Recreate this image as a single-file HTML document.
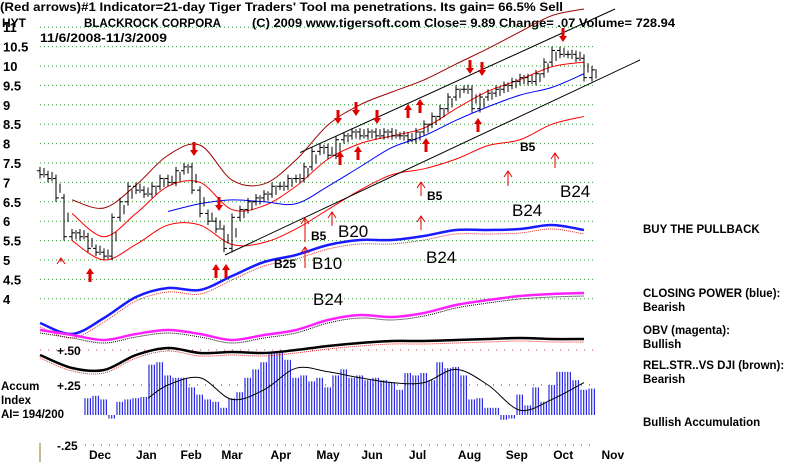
<!DOCTYPE html>
<html><head><meta charset="utf-8"><style>
html,body{margin:0;padding:0;background:#fff;}
svg{display:block;font-family:"Liberation Sans",sans-serif;}
</style></head><body>
<svg id="chart" width="800" height="465" viewBox="0 0 800 465" xmlns="http://www.w3.org/2000/svg">
<g font-weight="bold" font-size="12" fill="#000">
<text x="0" y="11" textLength="563" lengthAdjust="spacingAndGlyphs">(Red arrows)#1 Indicator=21-day Tiger Traders' Tool ma penetrations.  Its gain= 66.5% Sell</text>
<text x="2" y="27">HYT</text>
<text x="84" y="27" textLength="137" lengthAdjust="spacingAndGlyphs">BLACKROCK CORPORA</text>
<text x="252" y="27" textLength="423" lengthAdjust="spacingAndGlyphs">(C) 2009 www.tigersoft.com   Close=  9.89  Change= .07 Volume= 728.94</text>
<text x="40" y="42" textLength="127" lengthAdjust="spacingAndGlyphs">11/6/2008-11/3/2009</text>
</g>
<g id="grid"></g><g id="marks"></g><g id="annot"></g>
<g font-weight="bold" font-size="11.5" fill="#000">
<text x="643" y="233">BUY THE PULLBACK</text>
<text x="643" y="297">CLOSING POWER (blue):</text>
<text x="643" y="311">Bearish</text>
<text x="643" y="334">OBV (magenta):</text>
<text x="643" y="348">Bullish</text>
<text x="643" y="369">REL.STR..VS DJI (brown):</text>
<text x="643" y="383">Bearish</text>
<text x="643" y="426">Bullish Accumulation</text>
<text x="1" y="390">Accum</text>
<text x="1" y="404">Index</text>
<text x="1" y="418">AI= 194/200</text>
</g>
<line x1="40" y1="443" x2="40" y2="462" stroke="#8a7a20" stroke-width="1"/>
</svg>
<script>
// ---------- data ----------
const priceTicks = [11, 10.5, 10, 9.5, 9, 8.5, 8, 7.5, 7, 6.5, 6, 5.5, 5, 4.5, 4];
const monthLabels = ["Dec","Jan","Feb","Mar","Apr","May","Jun","Jul","Aug","Sep","Oct","Nov"];
const monthIdx = [7.5, 13.3, 18.9, 24, 30.1, 36, 41.5, 47.2, 53.7, 59.6, 65.4, 71.6];
const closes = [7.2,7.1,6.6,5.6,5.7,5.6,5.3,5.2,5.1,6.1,6.5,6.9,6.8,6.7,6.9,7.1,7.0,7.3,7.4,6.8,6.2,6.0,5.8,5.3,6.1,6.3,6.5,6.6,6.7,6.9,6.9,7.1,7.1,7.4,7.8,7.9,7.7,8.1,8.2,8.3,8.2,8.3,8.2,8.3,8.2,8.2,8.1,8.3,8.5,8.7,8.9,9.2,9.4,9.4,8.9,9.2,9.3,9.4,9.5,9.6,9.7,9.6,9.8,10.1,10.4,10.3,10.3,10.2,9.7,9.9];
const prevCloses = [7.3].concat(closes.slice(0,-1));
const upperBand= [null,6.55,6.34,6.93,7.7,7.96,7.06,6.96,7.58,8.48,9.0,9.33,9.64,10.05,10.45,10.88,11.3,11.47];
const midMA    = [null,6.2,5.6,6.2,6.9,7.0,6.3,6.4,6.9,7.6,8.0,8.2,8.4,8.9,9.35,9.65,9.98,10.1];
const blueMA   = [null,null,null,null,6.25,6.45,6.55,6.5,6.45,6.9,7.4,7.9,8.2,8.6,8.95,9.25,9.45,9.8];
const lowerBand= [null,5.5,5.0,5.4,5.9,5.9,5.4,5.45,5.8,6.3,6.8,7.2,7.35,7.6,7.95,8.1,8.5,8.7];
const closingPower = [77,66,82,103,112,110,124,138,145,155,160,160,164,170,170,171,175,170];
const obv = [70,65,60,66,70,66,60,65,70,80,85,83,87,95,100,104,106,107];
const relStrength = [45,32,30,45,52,47,48,47,50,54,57,59,59,60,61,62,61,61];
const accum = [.14,.16,.13,-.03,.11,.13,.14,.15,.42,.44,.33,.31,.31,.23,.17,.13,.11,.06,.14,.19,.31,.38,.44,.52,.53,.46,.31,.33,.28,.31,.23,.33,.38,.31,.33,.29,.31,.29,.27,.21,.35,.33,.35,.29,.44,.39,.40,.33,.13,.14,.06,.06,-.04,-.03,.17,.08,.23,.11,.25,.36,.36,.29,.21,.22];
const accumMA = [null,null,null,.14,.25,.31,.13,.21,.39,.36,.31,.27,.27,.38,.25,.04,.13,.27];

// ---------- scales ----------
const NS=document.createElementNS.bind(document,"http://www.w3.org/2000/svg");
const xDay = i => 40 + i*8;
const xBand = k => 40 + k*32;
const yPrice = v => 66 + (10 - v)*38.8;
const yInd = v => 400 - v;
const yAcc = v => 415 - v*120;
const grid=document.getElementById('grid'), marks=document.getElementById('marks'), annot=document.getElementById('annot');
function mk(tag, attrs, parent){const e=NS(tag);for(const k in attrs)e.setAttribute(k,attrs[k]);parent.appendChild(e);return e;}

priceTicks.forEach(t=>{
  const y=yPrice(t);
  const g=mk('line',{x1:40,x2:593,y1:y,y2:y,stroke:'#2a9a2a','stroke-width':1,'stroke-dasharray':'1,3'},grid);
  
  
  const tx=mk('text',{x:3,y:y+5,'font-size':13,'font-weight':'bold'},grid);
  tx.textContent=String(t);
  
  
});
[[0.5,'+.50'],[0.25,'+.25'],[-0.25,'-.25']].forEach(([v,l])=>{
  const y=yAcc(v)-( v===0.5?5:0);
  const g=mk('line',{x1:v===0.5?40:85,x2:593,y1:y,y2:y,stroke:v===0.5?'#c04040':'#444','stroke-width':1,'stroke-dasharray':'1,7'},grid);
  
  
  const tx=mk('text',{x:57,y:y+5,'font-size':12,'font-weight':'bold'},grid);
  tx.textContent=l;
  
  
});
monthLabels.forEach((m,i)=>{
  const tx=mk('text',{x:xDay(monthIdx[i]),y:459,'font-size':12,'font-weight':'bold','text-anchor':'middle'},grid);
  tx.textContent=m;
  
  
});

// accumulation histogram
accum.forEach((v,k)=>{
  const x=85+k*8;
  [0,2.7,5.4].forEach(o=>{
    const b=mk('line',{x1:x+o,x2:x+o,y1:415,y2:yAcc(v),stroke:'#2a2ae8','stroke-width':1.2},marks);
    
    
  });
});
function smoothPath(pts){
  if(pts.length<2)return '';
  let d='M'+pts[0][0]+','+pts[0][1];
  for(let i=0;i<pts.length-1;i++){
    const p0=pts[i-1]||pts[i],p1=pts[i],p2=pts[i+1],p3=pts[i+2]||p2;
    const c1x=p1[0]+(p2[0]-p0[0])/6,c1y=p1[1]+(p2[1]-p0[1])/6;
    const c2x=p2[0]-(p3[0]-p1[0])/6,c2y=p2[1]-(p3[1]-p1[1])/6;
    d+=`C${c1x},${c1y} ${c2x},${c2y} ${p2[0]},${p2[1]}`;
  }
  return d;
}
function polyline(arr, xf, yf, attrs, name){
  const pts=[];arr.forEach((v,k)=>{if(v!=null)pts.push([xf(k),yf(v)]);});
  const p=mk('path',Object.assign({d:smoothPath(pts),fill:'none'},attrs),marks);
  
  
  return p;
}
const accX=k=>xBand(k)+ (k===3?12:0);
polyline(accumMA,accX,yAcc,{stroke:'#000','stroke-width':1},'accum-ma-line');
polyline(closingPower.map(v=>v-4),xBand,yInd,{stroke:'#e03030','stroke-width':1,'stroke-dasharray':'1,1'},'closing-power-ma');
polyline(closingPower,xBand,yInd,{stroke:'#1a1aff','stroke-width':2.5},'closing-power-line');
polyline(obv.map(v=>v-3),xBand,yInd,{stroke:'#000','stroke-width':1,'stroke-dasharray':'1,1'},'obv-ma');
polyline(obv,xBand,yInd,{stroke:'#ff20ff','stroke-width':2.5},'obv-line');
polyline(relStrength.map(v=>v-3),xBand,yInd,{stroke:'#e03030','stroke-width':1,'stroke-dasharray':'1,1'},'relstr-ma');
polyline(relStrength,xBand,yInd,{stroke:'#000','stroke-width':2.5},'relstr-line');
polyline(upperBand,xBand,yPrice,{stroke:'#a00000','stroke-width':1},'upper-band');
polyline(lowerBand,xBand,yPrice,{stroke:'#ff0000','stroke-width':1},'lower-band');
polyline(midMA,xBand,yPrice,{stroke:'#ff0000','stroke-width':1},'red-ma');
polyline(blueMA,xBand,yPrice,{stroke:'#0000ff','stroke-width':1},'blue-ma');
[[300,152.6,615,9],[225,255,640,60]].forEach(c=>{
  const l=mk('line',{x1:c[0],y1:c[1],x2:c[2],y2:c[3],stroke:'#000','stroke-width':1},marks);
  
  
});
closes.forEach((c,i)=>{
  const x=xDay(i), o=prevCloses[i];
  const hi=Math.max(c,o)+0.1, lo=Math.min(c,o)-0.1;
  const g=mk('g',{stroke:'#000','stroke-width':1},marks);
  
  
  mk('line',{x1:x,x2:x,y1:yPrice(hi),y2:yPrice(lo)},g);
  mk('line',{x1:x,x2:x+3,y1:yPrice(c),y2:yPrice(c)},g);
  mk('line',{x1:x-3,x2:x,y1:yPrice(o),y2:yPrice(o)},g);
  mk('line',{x1:x+4,x2:x+4,y1:yPrice((c+o)/2+0.12),y2:yPrice((c+o)/2-0.12)},g);
});
const thick=[[90,274,1],[216,270,1],[226,270,1],[340,157,1],[358,152,1],[426,144,1],[478,124,1],[194,150,-1],[219,205,-1],[338,118,-1],[356,110,-1],[377,118,-1],[470,68,-1],[482,70,-1],[563,36,-1],[408,110,1],[420,105,1]];
thick.forEach(([x,y,d])=>{
  const p=mk('path',{d:d>0?`M${x-4},${y}L${x},${y-6}L${x+4},${y}L${x+1.5},${y}L${x+1.5},${y+8}L${x-1.5},${y+8}L${x-1.5},${y}Z`:`M${x-4},${y}L${x},${y+6}L${x+4},${y}L${x+1.5},${y}L${x+1.5},${y-8}L${x-1.5},${y-8}L${x-1.5},${y}Z`,fill:'#e00000'},annot);
  
  
});
const thin=[[305,218,242],[332,212,226],[421,182,196],[508,171,186],[555,153,168],[421,216,230],[305,247,268],[61,258,262]];
thin.forEach(([x,y1,y2])=>{
  const p=mk('path',{d:`M${x},${y2}L${x},${y1}M${x-4},${y1+6}L${x},${y1}L${x+4},${y1+6}`,fill:'none',stroke:'#e00000','stroke-width':1},annot);
  
  
});
const labels=[[311,240,'B5',12,'bold'],[338,237,'B20',17,'normal'],[312,269,'B10',17,'normal'],[274,268,'B25',12,'bold'],[313,305,'B24',17,'normal'],[426,263,'B24',17,'normal'],[512,216,'B24',17,'normal'],[560,197,'B24',17,'normal'],[427,200,'B5',12,'bold'],[520,151,'B5',12,'bold']];
labels.forEach(([x,y,t,s,w])=>{
  const tx=mk('text',{x,y,'font-size':s,'font-weight':w},annot);
  tx.textContent=t;
  
  
});
</script>
</body></html>
